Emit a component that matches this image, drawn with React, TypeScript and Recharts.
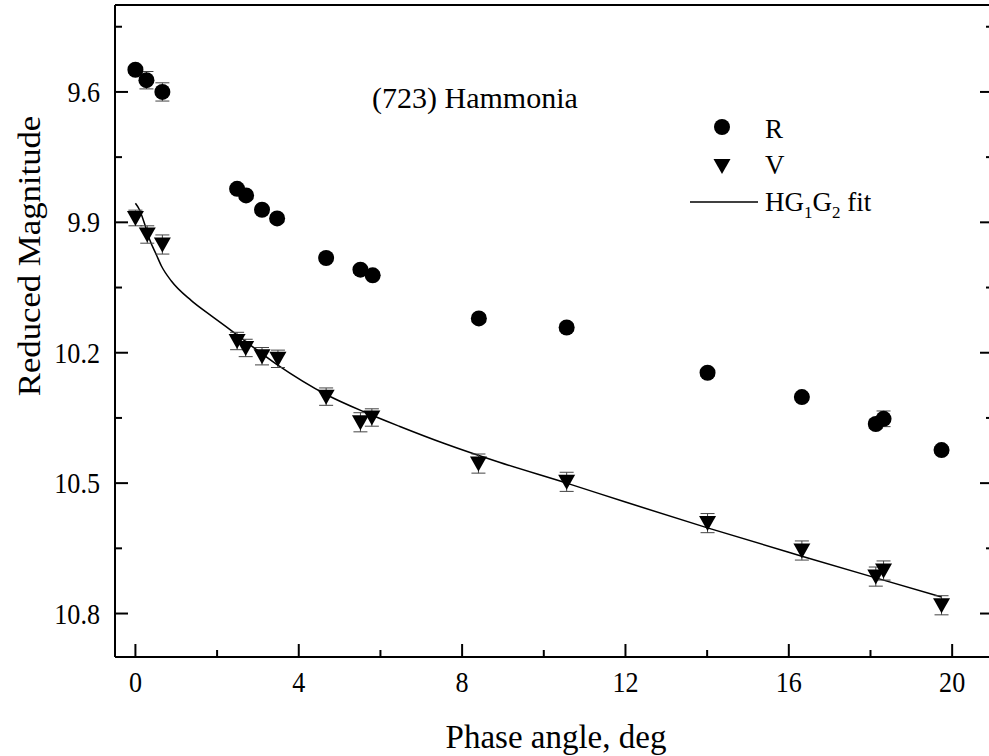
import { ComposedChart, Customized, ErrorBar, Line, Scatter, XAxis, YAxis } from "recharts";

const SERIF = '"Liberation Serif", "Times New Roman", serif';

// R band measurements
const rPhase = [0.0, 0.27, 0.66, 2.49, 2.71, 3.1, 3.47, 4.67, 5.51, 5.81, 8.41, 10.56, 14.01, 16.32, 18.13, 18.32, 19.74];
const rMag = [9.549, 9.573, 9.6, 9.823, 9.838, 9.871, 9.891, 9.982, 10.009, 10.022, 10.121, 10.142, 10.246, 10.302, 10.364, 10.352, 10.424];
const rErr = [0.008, 0.02, 0.021, 0.008, 0.008, 0.008, 0.008, 0.008, 0.008, 0.008, 0.008, 0.008, 0.008, 0.008, 0.01, 0.018, 0.008];

// V band measurements
const vPhase = [0.0, 0.29, 0.66, 2.49, 2.7, 3.1, 3.49, 4.67, 5.51, 5.79, 8.4, 10.56, 14.01, 16.32, 18.13, 18.32, 19.74];
const vMag = [9.89, 9.928, 9.951, 10.173, 10.189, 10.208, 10.214, 10.301, 10.36, 10.349, 10.455, 10.497, 10.592, 10.655, 10.715, 10.701, 10.781];
const vErr = [0.018, 0.02, 0.022, 0.02, 0.02, 0.02, 0.02, 0.02, 0.022, 0.02, 0.022, 0.022, 0.022, 0.022, 0.022, 0.022, 0.022];

// HG1G2 model curve
const fitPhase = [0, 0.1, 0.23, 0.35, 0.51, 0.64, 0.88, 1.37, 1.86, 2.39, 3.45, 4.67, 5.65, 6.46, 7.6, 8.91, 10.56, 11.98, 14.01, 16.32, 18.13, 19.74];
const fitMag = [9.856, 9.871, 9.905, 9.94, 9.974, 10.001, 10.035, 10.08, 10.115, 10.152, 10.226, 10.296, 10.338, 10.369, 10.41, 10.452, 10.5, 10.543, 10.603, 10.668, 10.718, 10.762];

const xTicks = [0, 2, 4, 6, 8, 10, 12, 14, 16, 18, 20];
const yTicks = [9.45, 9.6, 9.75, 9.9, 10.05, 10.2, 10.35, 10.5, 10.65, 10.8];
const yMajor = [9.6, 9.9, 10.2, 10.5, 10.8];

const rData = rPhase.map((phase, i) => ({ phase, mag: rMag[i], err: rErr[i] }));
const vData = vPhase.map((phase, i) => ({ phase, mag: vMag[i], err: vErr[i] }));
const fitData = fitPhase.map((phase, i) => ({ phase, mag: fitMag[i] }));

const isMajorX = (v: number) => v % 4 === 0;
const isMajorY = (v: number) => yMajor.some((m) => Math.abs(m - v) < 1e-6);

function BottomTick({ x, y, payload }: any) {
  const major = isMajorX(payload.value);
  return (
    <g>
      <line x1={x} y1={y} x2={x} y2={y - (major ? 13 : 7)} stroke="#000" strokeWidth={2} />
      {major && (
        <text
          transform={`translate(${x},${y + 35}) scale(0.87,1)`}
          textAnchor="middle"
          fontSize={30}
          style={{ fontFamily: SERIF }}
          fill="#000"
        >
          {payload.value}
        </text>
      )}
    </g>
  );
}

function TopTick({ x, y, payload }: any) {
  const major = isMajorX(payload.value);
  return <line x1={x} y1={y} x2={x} y2={y + (major ? 13 : 7)} stroke="#000" strokeWidth={2} />;
}

function LeftTick({ x, y, payload }: any) {
  const major = isMajorY(payload.value);
  return (
    <g>
      <line x1={x} y1={y} x2={x + (major ? 13 : 7)} y2={y} stroke="#000" strokeWidth={2} />
      {major && (
        <text
          transform={`translate(${x - 15},${y + 10}) scale(0.87,1)`}
          textAnchor="end"
          fontSize={30}
          style={{ fontFamily: SERIF }}
          fill="#000"
        >
          {payload.value.toFixed(1)}
        </text>
      )}
    </g>
  );
}

function RightTick({ x, y, payload }: any) {
  const major = isMajorY(payload.value);
  return <line x1={x} y1={y} x2={x - (major ? 13 : 7)} y2={y} stroke="#000" strokeWidth={2} />;
}

const Dot = (p: any) => <circle cx={p.cx} cy={p.cy} r={8} fill="#000" />;

const triPath = (cx: number, cy: number) => `M${cx - 8.5},${cy - 7}L${cx + 8.5},${cy - 7}L${cx},${cy + 8}Z`;
const Tri = (p: any) => <path d={triPath(p.cx, p.cy)} fill="#000" />;

function Annotations() {
  return (
    <g style={{ fontFamily: SERIF }} fill="#000">
      <text x={372} y={108} fontSize={30}>(723) Hammonia</text>
      <circle cx={722} cy={127} r={8} />
      <text x={765} y={138} fontSize={27}>R</text>
      <path d={triPath(722, 166)} />
      <text x={765} y={174} fontSize={27}>V</text>
      <line x1={690} y1={202} x2={758} y2={202} stroke="#000" strokeWidth={1.5} />
      <text x={765} y={211} fontSize={27}>
        HG<tspan fontSize={17} dy={7}>1</tspan>
        <tspan dy={-7}>G</tspan>
        <tspan fontSize={17} dy={7}>2</tspan>
        <tspan dy={-7}> fit</tspan>
      </text>
      <text transform="translate(40,256) rotate(-90) scale(1.12,1)" textAnchor="middle" fontSize={31}>
        Reduced Magnitude
      </text>
      <text x={556} y={748} textAnchor="middle" fontSize={33}>
        Phase angle, deg
      </text>
    </g>
  );
}

const axisStroke = { stroke: "#000", strokeWidth: 2 };

export default function App() {
  return (
    <div style={{ position: "absolute", left: 0, top: 0, width: 989, height: 756, overflow: "hidden", background: "#fff" }}>
      <ComposedChart width={994} height={756} margin={{ top: 4, right: 0, bottom: 0, left: 0 }} style={{ fontFamily: SERIF }}>
        <XAxis
          type="number"
          dataKey="phase"
          domain={[-0.5, 21]}
          allowDataOverflow
          ticks={xTicks}
          interval={0}
          height={99}
          tickSize={0}
          tickMargin={0}
          tickLine={false}
          axisLine={axisStroke}
          tick={BottomTick}
        />
        <XAxis
          xAxisId="top"
          orientation="top"
          type="number"
          domain={[-0.5, 21]}
          allowDataOverflow
          ticks={xTicks}
          interval={0}
          height={1}
          tickSize={0}
          tickMargin={0}
          tickLine={false}
          axisLine={axisStroke}
          tick={TopTick}
        />
        <YAxis
          type="number"
          dataKey="mag"
          domain={[9.4, 10.9]}
          allowDataOverflow
          reversed
          ticks={yTicks}
          interval={0}
          width={115}
          tickSize={0}
          tickMargin={0}
          tickLine={false}
          axisLine={axisStroke}
          tick={LeftTick}
        />
        {/* right frame edge sits just past the visible area; only its ticks show */}
        <YAxis
          yAxisId="right"
          orientation="right"
          type="number"
          domain={[9.4, 10.9]}
          allowDataOverflow
          reversed
          ticks={yTicks}
          interval={0}
          width={1}
          tickSize={0}
          tickMargin={0}
          tickLine={false}
          axisLine={false}
          tick={RightTick}
        />
        <Line data={fitData} dataKey="mag" type="monotone" stroke="#000" strokeWidth={1.5} dot={false} activeDot={false} isAnimationActive={false} />
        <Scatter data={rData} dataKey="mag" shape={Dot} isAnimationActive={false}>
          <ErrorBar dataKey="err" direction="y" width={7} stroke="#444" strokeWidth={1} />
        </Scatter>
        <Scatter data={vData} dataKey="mag" shape={Tri} isAnimationActive={false}>
          <ErrorBar dataKey="err" direction="y" width={7} stroke="#444" strokeWidth={1} />
        </Scatter>
        <Customized component={Annotations} />
      </ComposedChart>
    </div>
  );
}
